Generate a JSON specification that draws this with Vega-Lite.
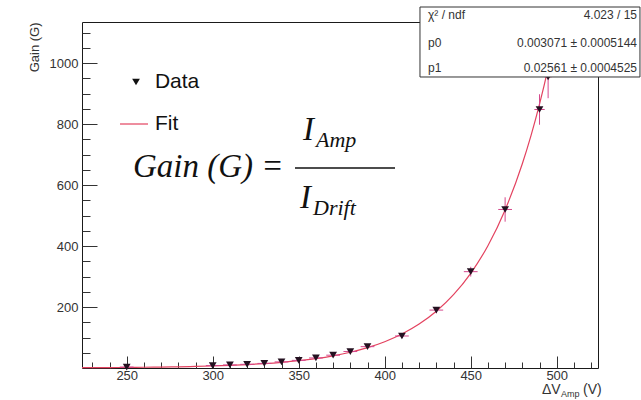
{
  "$schema": "https://vega.github.io/schema/vega-lite/v6.json",
  "width": 516,
  "height": 346,
  "autosize": {"type": "none"},
  "padding": {"left": 82, "top": 22, "right": 43, "bottom": 32},
  "background": "white",
  "config": {
    "view": {"stroke": "#1a1a1a", "strokeWidth": 1},
    "axis": {
      "grid": false, "domain": false,
      "labelFont": "Liberation Sans", "labelFontSize": 13, "labelColor": "#333",
      "titleFont": "Liberation Sans", "titleFontSize": 13, "titleColor": "#333", "titleFontWeight": "normal",
      "tickColor": "#333", "labelOverlap": false, "labelFlush": false
    }
  },
  "datasets": {
    "fit": [
      {"x": 224, "y": 0.952}, {"x": 230, "y": 1.11}, {"x": 240, "y": 1.43}, {"x": 250, "y": 1.85},
      {"x": 260, "y": 2.39}, {"x": 270, "y": 3.09}, {"x": 280, "y": 3.99}, {"x": 290, "y": 5.16},
      {"x": 300, "y": 6.66}, {"x": 310, "y": 8.61}, {"x": 320, "y": 11.13}, {"x": 330, "y": 14.37},
      {"x": 340, "y": 18.57}, {"x": 350, "y": 23.99}, {"x": 360, "y": 30.99}, {"x": 370, "y": 40.03},
      {"x": 380, "y": 51.71}, {"x": 390, "y": 66.8}, {"x": 400, "y": 86.3}, {"x": 410, "y": 111.5},
      {"x": 420, "y": 144.1}, {"x": 430, "y": 186.2}, {"x": 440, "y": 240.5}, {"x": 450, "y": 310.7},
      {"x": 460, "y": 401.3}, {"x": 470, "y": 518.5}, {"x": 480, "y": 669.9}, {"x": 485, "y": 761.4},
      {"x": 490, "y": 865.5}, {"x": 495, "y": 983.5}, {"x": 498, "y": 1062.1}, {"x": 500, "y": 1117.9},
      {"x": 500.4, "y": 1129.4}
    ],
    "pts": [
      {"x": 250, "y": 3, "ex": 4, "ey": 3},
      {"x": 300, "y": 8, "ex": 4, "ey": 3},
      {"x": 310, "y": 10, "ex": 4, "ey": 3},
      {"x": 320, "y": 12, "ex": 4, "ey": 3},
      {"x": 330, "y": 15, "ex": 4, "ey": 3},
      {"x": 340, "y": 20, "ex": 4, "ey": 3},
      {"x": 350, "y": 25, "ex": 4, "ey": 4},
      {"x": 360, "y": 33, "ex": 4, "ey": 4},
      {"x": 370, "y": 42, "ex": 4, "ey": 4},
      {"x": 380, "y": 54, "ex": 4, "ey": 5},
      {"x": 390, "y": 70, "ex": 4, "ey": 5},
      {"x": 410, "y": 105, "ex": 4, "ey": 7},
      {"x": 430, "y": 190, "ex": 4, "ey": 10},
      {"x": 450, "y": 316, "ex": 4, "ey": 16},
      {"x": 470, "y": 520, "ex": 4, "ey": 40},
      {"x": 490, "y": 848, "ex": 3, "ey": 50},
      {"x": 495, "y": 955, "ex": 2, "ey": 70}
    ],
    "legpt": [{"x": 255.4, "y": 938.2}],
    "legline": [{"x": 246.1, "x2": 262.4, "y": 800.4}],
    "legtxt": [{"x": 266.4, "y": 938.2, "t": "Data"}, {"x": 266.4, "y": 800.4, "t": "Fit"}],
    "fbig": [{"x": 253.65, "y": 626.6, "t": "Gain (G) ="}, {"x": 352.49, "y": 747.9, "t": "I"}, {"x": 350.74, "y": 524.9, "t": "I"}],
    "fsub": [{"x": 360.05, "y": 725.0, "t": "Amp"}, {"x": 358.3, "y": 501.9, "t": "Drift"}],
    "fbar": [{"x": 347.84, "x2": 405.98, "y": 656.1}],
    "xt": [{"x": 491.4, "y": -85.3, "t": "ΔV"}, {"x": 515.3, "y": -85.3, "t": "(V)"}],
    "xtsub": [{"x": 502.5, "y": -95.1, "t": "Amp"}],
    "box": [{"x": 420.5, "x2": 548.4, "y": 954.6, "y2": 1184.2}],
    "slab": [{"x": 425.2, "y": 1158, "t": "χ² / ndf"}, {"x": 425.2, "y": 1065.1, "t": "p0"}, {"x": 425.2, "y": 983.1, "t": "p1"}],
    "sval": [{"x": 546.7, "y": 1158, "t": "4.023 / 15"}, {"x": 546.7, "y": 1065.1, "t": "0.003071 ± 0.0005144"}, {"x": 546.7, "y": 983.1, "t": "0.02561 ± 0.0004525"}]
  },
  "encoding": {
    "x": {
      "field": "x", "type": "quantitative",
      "scale": {"domain": [224, 524], "nice": false, "zero": false},
      "axis": {
        "title": null,
        "values": [230, 240, 250, 260, 270, 280, 290, 300, 310, 320, 330, 340, 350, 360, 370, 380, 390, 400, 410, 420, 430, 440, 450, 460, 470, 480, 490, 500, 510, 520],
        "labelExpr": "datum.value % 50 === 0 ? datum.label : ''",
        "tickSize": {"condition": {"test": "datum.value % 50 === 0", "value": -12}, "value": -6},
        "labelPadding": 13
      }
    },
    "y": {
      "field": "y", "type": "quantitative",
      "scale": {"domain": [0, 1135], "nice": false, "zero": false},
      "axis": {
        "title": "Gain (G)", "titleAnchor": "end", "titlePadding": 8, "format": "d",
        "values": [50, 100, 150, 200, 250, 300, 350, 400, 450, 500, 550, 600, 650, 700, 750, 800, 850, 900, 950, 1000, 1050, 1100],
        "labelExpr": "datum.value % 200 === 0 ? datum.label : ''",
        "tickSize": {"condition": {"test": "datum.value % 200 === 0", "value": -15}, "value": -8},
        "labelPadding": 19
      }
    }
  },
  "layer": [
    {"data": {"name": "fit"}, "mark": {"type": "line", "color": "#e3425f", "strokeWidth": 1.2, "interpolate": "monotone"}, "encoding": {}},
    {"data": {"name": "pts"}, "mark": {"type": "errorbar", "color": "#d5488c", "thickness": 1}, "encoding": {"yError": {"field": "ey"}}},
    {"data": {"name": "pts"}, "mark": {"type": "errorbar", "color": "#d5488c", "thickness": 1}, "encoding": {"xError": {"field": "ex"}}},
    {"data": {"name": "pts"}, "mark": {"type": "point", "shape": "triangle-down", "filled": true, "size": 60, "color": "#241020", "opacity": 1}},
    {"data": {"name": "legpt"}, "mark": {"type": "point", "shape": "triangle-down", "filled": true, "size": 60, "color": "#111", "opacity": 1}},
    {"data": {"name": "legline"}, "mark": {"type": "rule", "color": "#e3425f", "strokeWidth": 1.2}, "encoding": {"x2": {"field": "x2"}}},
    {"data": {"name": "legtxt"}, "mark": {"type": "text", "align": "left", "baseline": "middle", "font": "Liberation Sans", "fontSize": 21, "color": "#111"}, "encoding": {"text": {"field": "t"}}},
    {"data": {"name": "fbig"}, "mark": {"type": "text", "align": "left", "baseline": "alphabetic", "font": "Liberation Serif", "fontStyle": "italic", "fontSize": 33, "color": "#111"}, "encoding": {"text": {"field": "t"}}},
    {"data": {"name": "fsub"}, "mark": {"type": "text", "align": "left", "baseline": "alphabetic", "font": "Liberation Serif", "fontStyle": "italic", "fontSize": 22, "color": "#111"}, "encoding": {"text": {"field": "t"}}},
    {"data": {"name": "fbar"}, "mark": {"type": "rule", "color": "#111", "strokeWidth": 1.5}, "encoding": {"x2": {"field": "x2"}}},
    {"data": {"name": "xt"}, "mark": {"type": "text", "align": "left", "baseline": "alphabetic", "font": "Liberation Sans", "fontSize": 14, "color": "#333"}, "encoding": {"text": {"field": "t"}}},
    {"data": {"name": "xtsub"}, "mark": {"type": "text", "align": "left", "baseline": "alphabetic", "font": "Liberation Sans", "fontSize": 9, "color": "#333"}, "encoding": {"text": {"field": "t"}}},
    {"data": {"name": "box"}, "mark": {"type": "rect", "fill": "white", "stroke": "#333", "strokeWidth": 1}, "encoding": {"x2": {"field": "x2"}, "y2": {"field": "y2"}}},
    {"data": {"name": "slab"}, "mark": {"type": "text", "align": "left", "baseline": "middle", "font": "Liberation Sans", "fontSize": 12, "color": "#333"}, "encoding": {"text": {"field": "t"}}},
    {"data": {"name": "sval"}, "mark": {"type": "text", "align": "right", "baseline": "middle", "font": "Liberation Sans", "fontSize": 12, "color": "#333"}, "encoding": {"text": {"field": "t"}}}
  ]
}
